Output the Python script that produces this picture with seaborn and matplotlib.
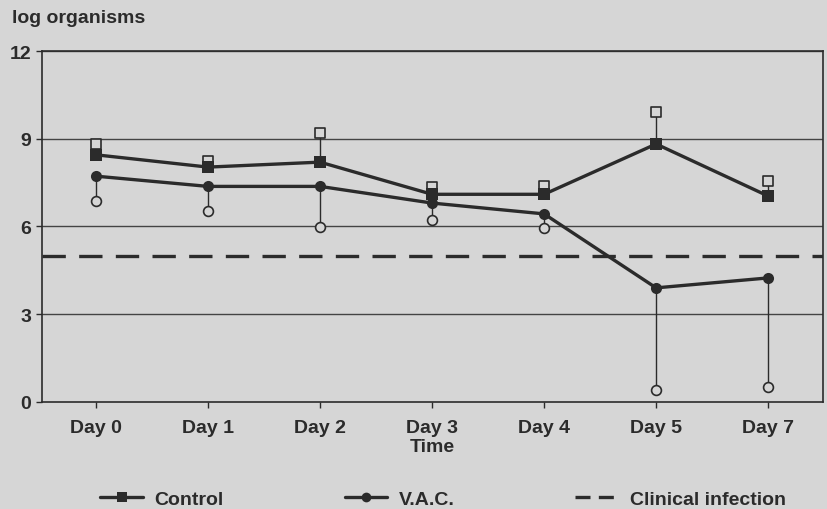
import matplotlib
matplotlib.use("Agg")
import matplotlib.pyplot as plt
from matplotlib.lines import Line2D
import seaborn as sns
import pandas as pd

days = ["Day 0", "Day 1", "Day 2", "Day 3", "Day 4", "Day 5", "Day 7"]
control_mean = [8.45, 8.03, 8.2, 7.1, 7.1, 8.82, 7.04]
control_upper = [8.82, 8.24, 9.2, 7.35, 7.4, 9.9, 7.56]
vac_mean = [7.72, 7.37, 7.37, 6.8, 6.43, 3.9, 4.24]
vac_lower = [6.88, 6.54, 5.98, 6.23, 5.94, 0.4, 0.5]
clinical_infection = 5.0
y_ticks = [0, 3, 6, 9, 12]

sns.set_theme(style="white")
plt.rcParams["font.family"] = ["Liberation Sans", "DejaVu Sans"]
plt.rcParams["font.weight"] = "bold"

bg = "#d6d6d6"
ink = "#2b2b2b"
fs = 14

fig = plt.figure(figsize=(8.28, 5.10), dpi=100, facecolor=bg)
ax = fig.add_axes([0.051, 0.21, 0.943, 0.688])
ax.set_facecolor(bg)

df = pd.DataFrame({
    "Time": days * 2,
    "value": control_mean + vac_mean,
    "series": ["Control"] * len(days) + ["V.A.C."] * len(days),
})

# error bars and open end markers
ax.vlines(days, control_mean, control_upper, color=ink, lw=1.0, zorder=2)
ax.vlines(days, vac_lower, vac_mean, color=ink, lw=1.0, zorder=2)
sns.scatterplot(x=days, y=control_upper, marker="s", s=55, facecolor=bg,
                edgecolor=ink, linewidth=1.2, ax=ax, zorder=3, legend=False)
sns.scatterplot(x=days, y=vac_lower, marker="o", s=50, facecolor=bg,
                edgecolor=ink, linewidth=1.2, ax=ax, zorder=3, legend=False)

sns.lineplot(data=df, x="Time", y="value", style="series", hue="series",
             palette=[ink, ink], markers={"Control": "s", "V.A.C.": "o"},
             dashes=False, markersize=8, markeredgewidth=0, lw=2.4,
             sort=False, ax=ax, legend=False, zorder=4)

ax.axhline(clinical_infection, color=ink, lw=2.4, dashes=(7, 4), zorder=2)
for yv in y_ticks[1:]:
    ax.axhline(yv, color="#444444", lw=1.0, zorder=1)

ax.set_ylim(0, 12)
ax.set_xlim(-0.48, 6.49)
ax.set_yticks(y_ticks)
ax.set_yticklabels([str(v) for v in y_ticks], fontsize=fs, fontweight="bold", color=ink)
ax.set_xticks(range(len(days)))
ax.set_xticklabels(days, fontsize=fs, fontweight="bold", color=ink)
ax.tick_params(axis="both", which="both", direction="out", length=4, width=1,
               color=ink, left=True, bottom=True, pad=4)
ax.tick_params(axis="x", pad=8)
ax.set_xlabel("Time", fontsize=fs, fontweight="bold", color=ink, labelpad=2)
ax.set_ylabel("")
for sp in ax.spines.values():
    sp.set_color(ink)
    sp.set_linewidth(1.2)

fig.text(0.015, 0.963, "log organisms", fontsize=fs, fontweight="bold", color=ink,
         ha="left", va="center")

handles = [
    Line2D([], [], color=ink, lw=2.4, marker="s", markersize=7, markeredgewidth=0),
    Line2D([], [], color=ink, lw=2.4, marker="o", markersize=7, markeredgewidth=0),
    Line2D([], [], color=ink, lw=2.4, dashes=(4.5, 2.5)),
]
fig.legend(handles, ["Control", "V.A.C.", "Clinical infection"], loc="center left",
           bbox_to_anchor=(0.1, 0.02), ncol=3, frameon=False, handlelength=2.2,
           handletextpad=0.6, columnspacing=6.2,
           prop={"size": fs, "weight": "bold"}, labelcolor=ink)

fig.savefig("out.png", dpi=100, facecolor=bg)
